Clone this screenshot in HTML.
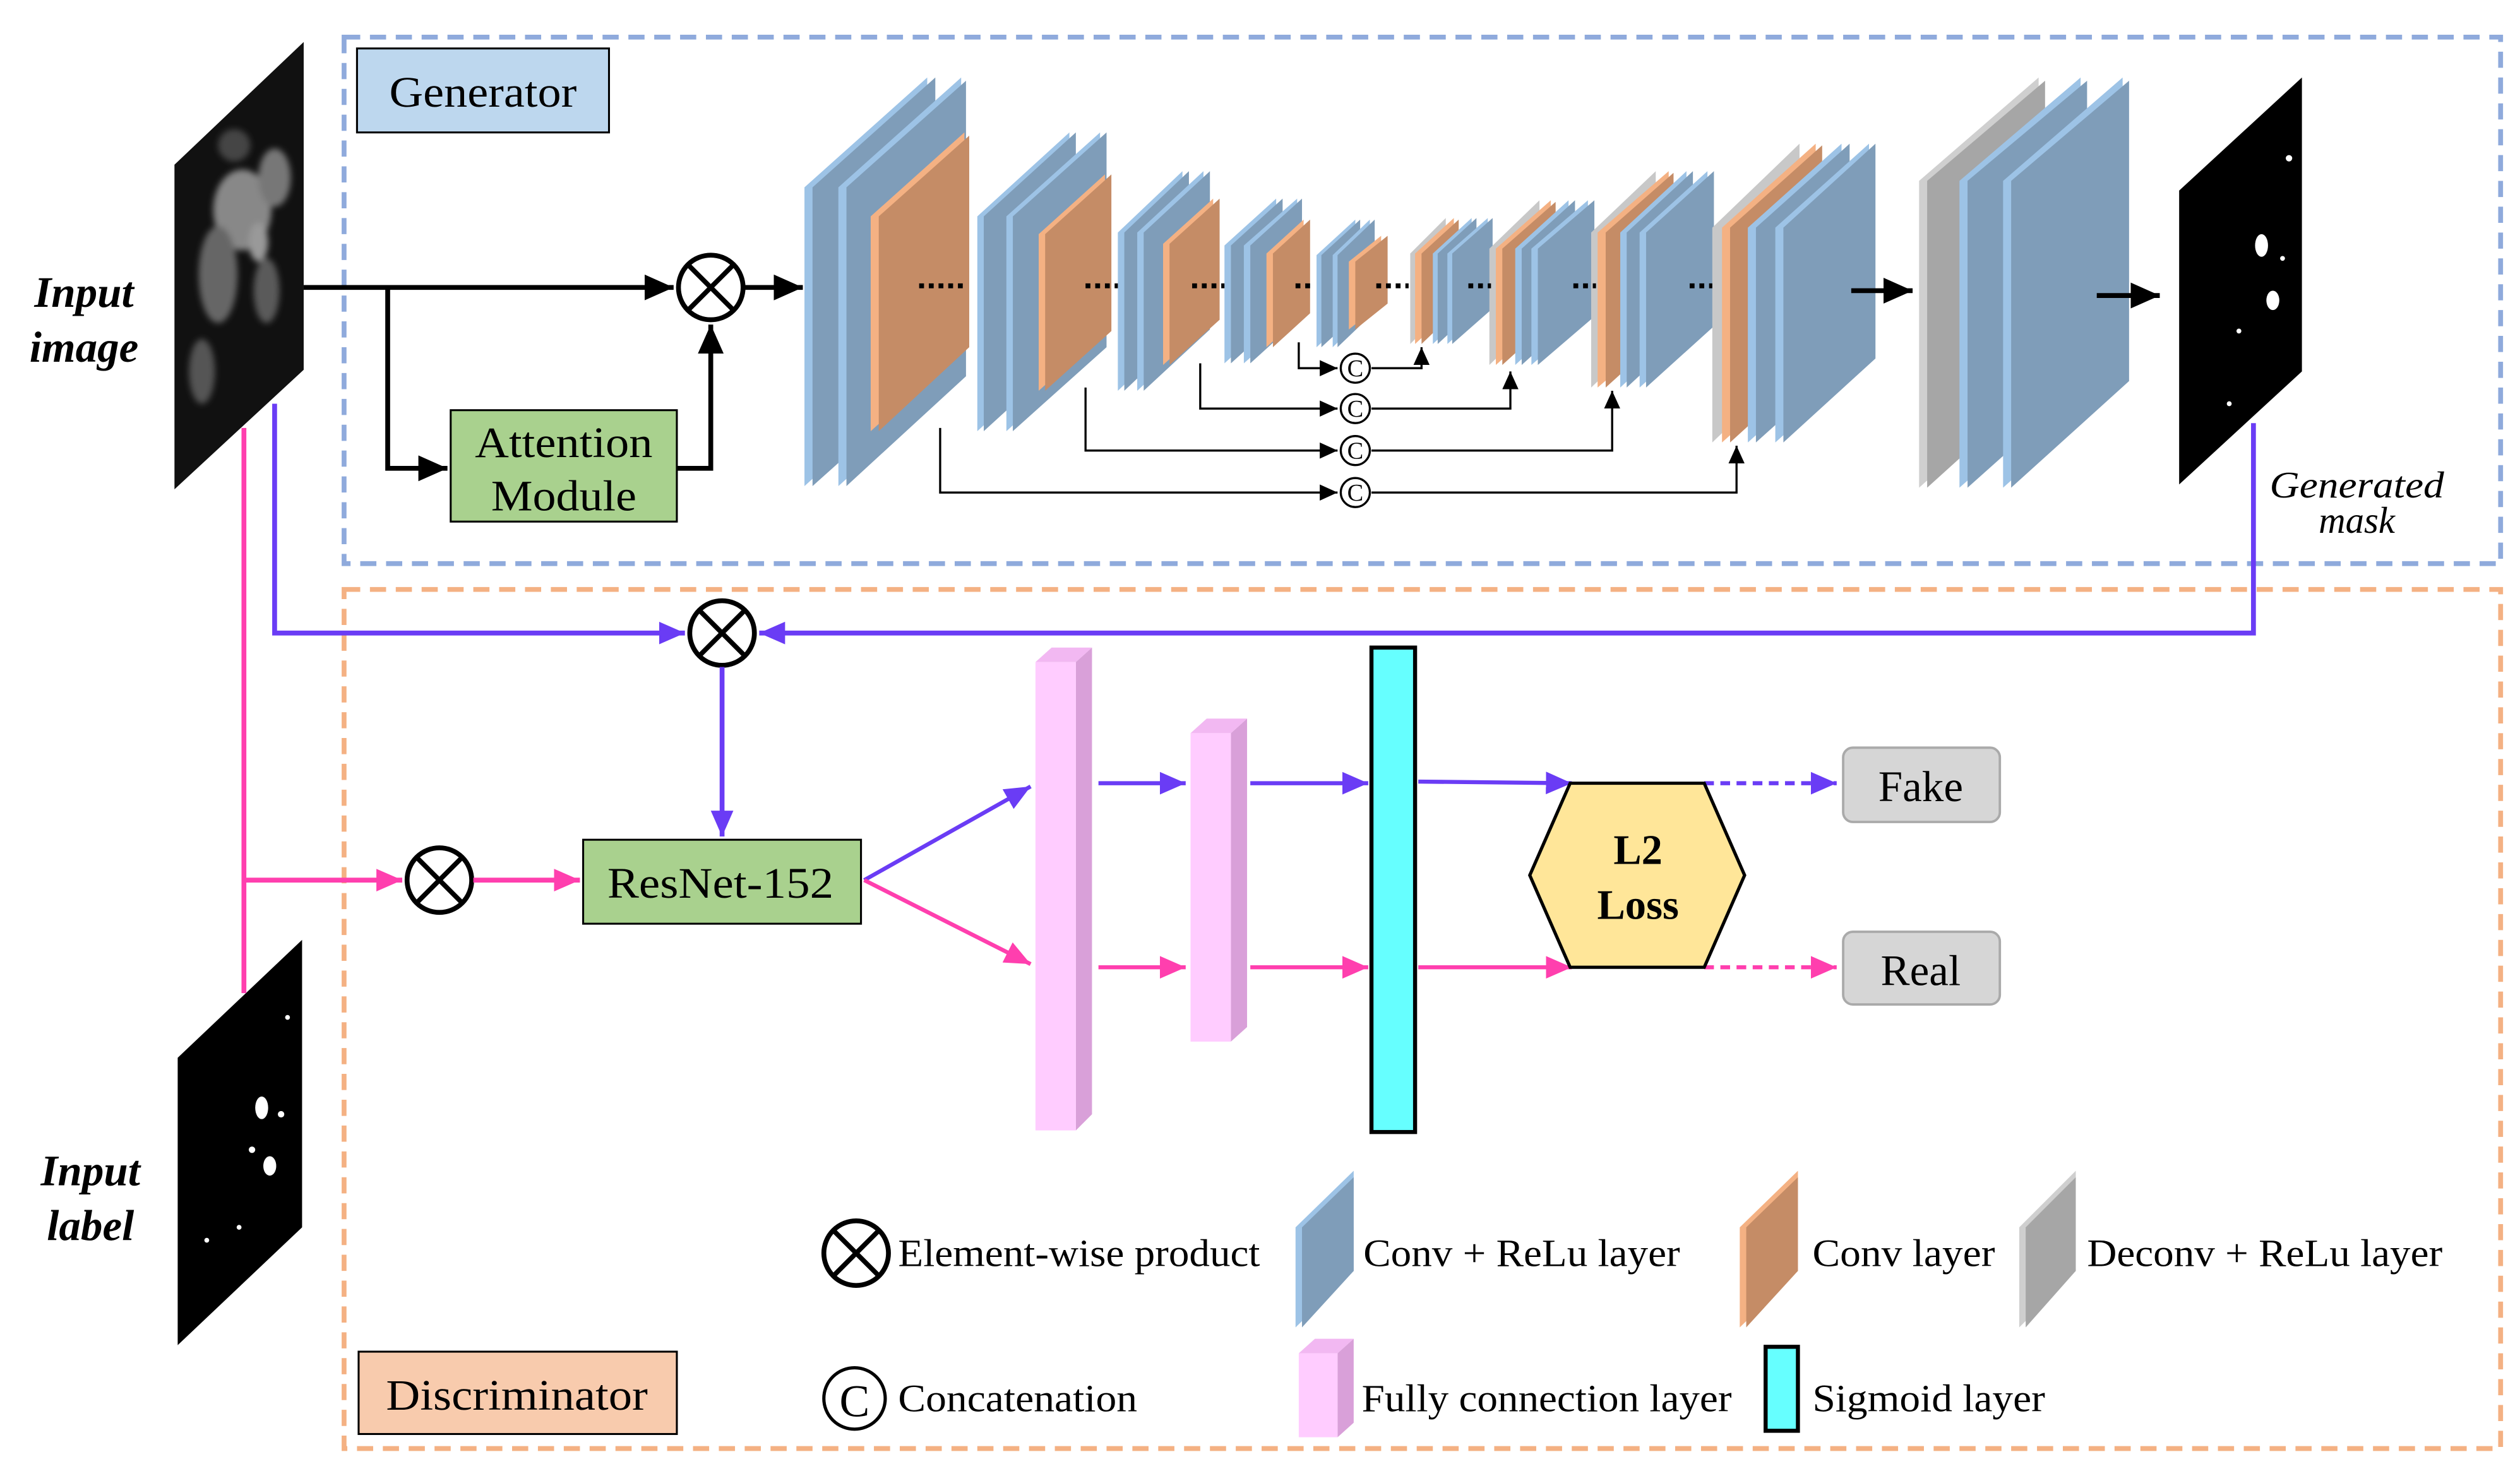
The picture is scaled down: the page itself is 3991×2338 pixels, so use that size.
<!DOCTYPE html>
<html><head><meta charset="utf-8"><style>html,body{margin:0;padding:0;background:#fff}svg{display:block}</style></head>
<body>
<svg width="3991" height="2338" viewBox="0 0 1560 914" preserveAspectRatio="none" xmlns="http://www.w3.org/2000/svg" font-family="'Liberation Serif', serif">
<defs>
<marker id="ak" markerUnits="userSpaceOnUse" markerWidth="20" markerHeight="16" refX="18" refY="8" orient="auto"><path d="M0,0 L18,8 L0,16 Z" fill="#000"/></marker>
<marker id="aks" markerUnits="userSpaceOnUse" markerWidth="12" markerHeight="10" refX="11" refY="5" orient="auto"><path d="M0,0 L11,5 L0,10 Z" fill="#000"/></marker>
<marker id="ap" markerUnits="userSpaceOnUse" markerWidth="18" markerHeight="14" refX="16" refY="7" orient="auto"><path d="M0,0 L16,7 L0,14 Z" fill="#6a3cf5"/></marker>
<marker id="apk" markerUnits="userSpaceOnUse" markerWidth="18" markerHeight="14" refX="16" refY="7" orient="auto"><path d="M0,0 L16,7 L0,14 Z" fill="#ff3fae"/></marker>
<clipPath id="c1"><polygon points="108,303 108,102 188,26 188,229"/></clipPath>
<filter id="bl"><feGaussianBlur stdDeviation="2"/></filter>
</defs>

<rect x="213" y="23" width="1335" height="326" fill="none" stroke="#8faadc" stroke-width="3" stroke-dasharray="10,6"/>
<rect x="213" y="365" width="1335" height="532" fill="none" stroke="#f4b183" stroke-width="3" stroke-dasharray="10,6"/>

<rect x="221" y="30" width="156" height="52" fill="#bdd7ee" stroke="#000" stroke-width="1.2"/>
<text x="241" y="66" font-size="27" textLength="116" lengthAdjust="spacingAndGlyphs">Generator</text>
<rect x="222" y="837" width="197" height="51" fill="#f8cbad" stroke="#000" stroke-width="1.2"/>
<text x="239" y="873" font-size="27" textLength="162" lengthAdjust="spacingAndGlyphs">Discriminator</text>

<polygon points="108,303 108,102 188,26 188,229" fill="#111"/>
<g clip-path="url(#c1)" filter="url(#bl)">
<ellipse cx="150" cy="130" rx="18" ry="25" fill="#888"/>
<ellipse cx="135" cy="170" rx="12" ry="30" fill="#666"/>
<ellipse cx="170" cy="110" rx="10" ry="18" fill="#777"/>
<ellipse cx="125" cy="230" rx="8" ry="20" fill="#555"/>
<ellipse cx="165" cy="180" rx="8" ry="20" fill="#5a5a5a"/>
<ellipse cx="145" cy="90" rx="10" ry="10" fill="#444"/>
<ellipse cx="160" cy="150" rx="6" ry="12" fill="#999"/>
</g>
<text x="52" y="190" font-size="27" font-weight="bold" font-style="italic" text-anchor="middle">Input</text>
<text x="52" y="224" font-size="27" font-weight="bold" font-style="italic" text-anchor="middle">image</text>

<polygon points="110,833 110,655 187,582 187,760" fill="#000"/>
<g fill="#fff"><ellipse cx="162" cy="686" rx="4" ry="7"/><ellipse cx="167" cy="722" rx="4" ry="6"/><circle cx="174" cy="690" r="2"/><circle cx="156" cy="712" r="2"/><circle cx="148" cy="760" r="1.5"/><circle cx="128" cy="768" r="1.5"/><circle cx="178" cy="630" r="1.5"/></g>
<text x="56" y="734" font-size="27" font-weight="bold" font-style="italic" text-anchor="middle">Input</text>
<text x="56" y="768" font-size="27" font-weight="bold" font-style="italic" text-anchor="middle">label</text>

<polygon points="1349,300 1349,118 1425,48 1425,230" fill="#000"/>
<g fill="#fff"><ellipse cx="1400" cy="152" rx="4" ry="7"/><ellipse cx="1407" cy="186" rx="4" ry="6"/><circle cx="1417" cy="98" r="2"/><circle cx="1386" cy="205" r="1.5"/><circle cx="1380" cy="250" r="1.5"/><circle cx="1413" cy="160" r="1.5"/></g>
<text x="1459" y="308" font-size="23" font-style="italic" text-anchor="middle" textLength="108" lengthAdjust="spacingAndGlyphs">Generated</text>
<text x="1459" y="330" font-size="23" font-style="italic" text-anchor="middle">mask</text>

<line x1="188" y1="178" x2="417" y2="178" stroke="#000" stroke-width="3" marker-end="url(#ak)"/>
<polyline points="240,178 240,290 277,290" fill="none" stroke="#000" stroke-width="3" marker-end="url(#ak)"/>
<rect x="279" y="254" width="140" height="69" fill="#a9d18e" stroke="#000" stroke-width="1.2"/>
<text x="294" y="283" font-size="27" textLength="110" lengthAdjust="spacingAndGlyphs">Attention</text>
<text x="304" y="316" font-size="27" textLength="90" lengthAdjust="spacingAndGlyphs">Module</text>
<polyline points="419,290 440,290 440,201" fill="none" stroke="#000" stroke-width="3" marker-end="url(#ak)"/>
<g stroke="#000" stroke-width="3" fill="#fff"><circle cx="440" cy="178" r="20"/><line x1="426" y1="164" x2="454" y2="192"/><line x1="454" y1="164" x2="426" y2="192"/></g>
<line x1="461" y1="178" x2="497" y2="178" stroke="#000" stroke-width="3" marker-end="url(#ak)"/>

<g>
<polygon points="498,301 498,116 574,48 574,233" fill="#9dc3e6"/><polygon points="503,301 503,116 579,48 579,233" fill="#7f9db9"/>
<polygon points="519,301 519,116 595,48 595,233" fill="#9dc3e6"/><polygon points="524,301 524,116 598,50 598,233" fill="#7f9db9"/>
<polygon points="539,267 539,134 597,82 597,215" fill="#f4b183"/><polygon points="544,267 544,134 600,84 600,215" fill="#c58c66"/>
<polygon points="605,267 605,134 662,82 662,215" fill="#9dc3e6"/><polygon points="609,267 609,134 666,82 666,215" fill="#7f9db9"/>
<polygon points="623,267 623,134 681,82 681,215" fill="#9dc3e6"/><polygon points="627,267 627,134 685,82 685,215" fill="#7f9db9"/>
<polygon points="643,242 643,145 684,108 684,205" fill="#f4b183"/><polygon points="647,242 647,145 688,108 688,205" fill="#c58c66"/>
<polygon points="692,242 692,144 732,106 732,204" fill="#9dc3e6"/><polygon points="696,242 696,144 736,106 736,204" fill="#7f9db9"/>
<polygon points="704,242 704,144 745,106 745,204" fill="#9dc3e6"/><polygon points="708,242 708,144 749,106 749,204" fill="#7f9db9"/>
<polygon points="720,226 720,151 751,123 751,198" fill="#f4b183"/><polygon points="724,226 724,151 755,123 755,198" fill="#c58c66"/>
<polygon points="758,225 758,152 790,123 790,196" fill="#9dc3e6"/><polygon points="762,225 762,152 794,123 794,196" fill="#7f9db9"/>
<polygon points="770,225 770,152 803,123 803,196" fill="#9dc3e6"/><polygon points="774,225 774,152 806,123 806,196" fill="#7f9db9"/>
<polygon points="784,215 784,157 807,136 807,194" fill="#f4b183"/><polygon points="788,215 788,157 811,136 811,194" fill="#c58c66"/>
<polygon points="815,215 815,158 839,136 839,193" fill="#9dc3e6"/><polygon points="818,215 818,158 842,136 842,193" fill="#7f9db9"/>
<polygon points="825,215 825,158 848,136 848,193" fill="#9dc3e6"/><polygon points="828,215 828,158 851,136 851,193" fill="#7f9db9"/>
<polygon points="835,204 835,162 855,146 855,188" fill="#f4b183"/><polygon points="839,204 839,162 859,146 859,188" fill="#c58c66"/>
<polygon points="873,213 873,157 895,135 895,191" fill="#c8c8c8"/>
<polygon points="876,213 876,157 900,135 900,191" fill="#f4b183"/><polygon points="880,213 880,157 903,136 903,191" fill="#c58c66"/>
<polygon points="887,213 887,157 911,135 911,191" fill="#9dc3e6"/><polygon points="890,213 890,157 914,135 914,191" fill="#7f9db9"/>
<polygon points="896,213 896,157 921,135 921,191" fill="#9dc3e6"/><polygon points="899,213 899,157 924,135 924,191" fill="#7f9db9"/>
<polygon points="922,226 922,154 953,124 953,196" fill="#c8c8c8"/>
<polygon points="926,226 926,154 960,124 960,196" fill="#f4b183"/><polygon points="930,226 930,154 963,125 963,196" fill="#c58c66"/>
<polygon points="938,226 938,154 971,124 971,196" fill="#9dc3e6"/><polygon points="942,226 942,154 975,124 975,196" fill="#7f9db9"/>
<polygon points="948,226 948,154 983,124 983,196" fill="#9dc3e6"/><polygon points="952,226 952,154 987,124 987,196" fill="#7f9db9"/>
<polygon points="985,240 985,144 1025,106 1025,202" fill="#c8c8c8"/>
<polygon points="989,240 989,144 1033,106 1033,202" fill="#f4b183"/><polygon points="994,240 994,144 1036,107 1036,202" fill="#c58c66"/>
<polygon points="1003,240 1003,144 1044,106 1044,202" fill="#9dc3e6"/><polygon points="1007,240 1007,144 1048,106 1048,202" fill="#7f9db9"/>
<polygon points="1015,240 1015,144 1057,106 1057,202" fill="#9dc3e6"/><polygon points="1019,240 1019,144 1061,106 1061,202" fill="#7f9db9"/>
<polygon points="1060,274 1060,141 1114,89 1114,222" fill="#c8c8c8"/>
<polygon points="1066,274 1066,141 1124,89 1124,222" fill="#f4b183"/><polygon points="1071,274 1071,141 1128,90 1128,222" fill="#c58c66"/>
<polygon points="1082,274 1082,141 1140,89 1140,222" fill="#9dc3e6"/><polygon points="1087,274 1087,141 1145,89 1145,222" fill="#7f9db9"/>
<polygon points="1099,274 1099,141 1157,89 1157,222" fill="#9dc3e6"/><polygon points="1104,274 1104,141 1161,89 1161,222" fill="#7f9db9"/>
<polygon points="1188,302 1188,112 1262,48 1262,236" fill="#cfcfcf"/><polygon points="1193,302 1193,112 1266,50 1266,236" fill="#a6a6a6"/>
<polygon points="1213,302 1213,112 1288,48 1288,236" fill="#9dc3e6"/><polygon points="1218,302 1218,112 1292,50 1292,236" fill="#7f9db9"/>
<polygon points="1240,302 1240,112 1314,48 1314,236" fill="#9dc3e6"/><polygon points="1245,302 1245,112 1318,50 1318,236" fill="#7f9db9"/>
</g>

<g stroke="#000" stroke-width="3" stroke-dasharray="3,3">
<line x1="569" y1="177" x2="599" y2="177"/><line x1="672" y1="177" x2="692" y2="177"/><line x1="738" y1="177" x2="758" y2="177"/>
<line x1="802" y1="177" x2="814" y2="177"/><line x1="852" y1="177" x2="872" y2="177"/><line x1="909" y1="177" x2="923" y2="177"/>
<line x1="974" y1="177" x2="988" y2="177"/><line x1="1046" y1="177" x2="1060" y2="177"/>
</g>
<line x1="1146" y1="180" x2="1184" y2="180" stroke="#000" stroke-width="3" marker-end="url(#ak)"/>
<line x1="1298" y1="183" x2="1337" y2="183" stroke="#000" stroke-width="3" marker-end="url(#ak)"/>

<g fill="none" stroke="#000" stroke-width="1.3">
<polyline points="804,212 804,228 828,228" marker-end="url(#aks)"/>
<polyline points="849,228 880,228 880,215" marker-end="url(#aks)"/>
<polyline points="743,225 743,253 828,253" marker-end="url(#aks)"/>
<polyline points="849,253 935,253 935,230" marker-end="url(#aks)"/>
<polyline points="672,240 672,279 828,279" marker-end="url(#aks)"/>
<polyline points="849,279 998,279 998,242" marker-end="url(#aks)"/>
<polyline points="582,265 582,305 828,305" marker-end="url(#aks)"/>
<polyline points="849,305 1075,305 1075,276" marker-end="url(#aks)"/>
</g>
<g font-size="15" text-anchor="middle" fill="#000">
<circle cx="839" cy="228" r="9" fill="#fff" stroke="#000" stroke-width="1.3"/><text x="839" y="233">C</text>
<circle cx="839" cy="253" r="9" fill="#fff" stroke="#000" stroke-width="1.3"/><text x="839" y="258">C</text>
<circle cx="839" cy="279" r="9" fill="#fff" stroke="#000" stroke-width="1.3"/><text x="839" y="284">C</text>
<circle cx="839" cy="305" r="9" fill="#fff" stroke="#000" stroke-width="1.3"/><text x="839" y="310">C</text>
</g>

<polyline points="170,250 170,392 424,392" fill="none" stroke="#6a3cf5" stroke-width="3" marker-end="url(#ap)"/>
<polyline points="1395,262 1395,392 470,392" fill="none" stroke="#6a3cf5" stroke-width="3" marker-end="url(#ap)"/>
<g stroke="#000" stroke-width="3" fill="#fff"><circle cx="447" cy="392" r="20"/><line x1="433" y1="378" x2="461" y2="406"/><line x1="461" y1="378" x2="433" y2="406"/></g>
<line x1="447" y1="413" x2="447" y2="518" stroke="#6a3cf5" stroke-width="3" marker-end="url(#ap)"/>

<polyline points="151,265 151,615" fill="none" stroke="#ff3fae" stroke-width="3"/>
<line x1="151" y1="545" x2="249" y2="545" stroke="#ff3fae" stroke-width="3" marker-end="url(#apk)"/>
<g stroke="#000" stroke-width="3" fill="#fff"><circle cx="272" cy="545" r="20"/><line x1="258" y1="531" x2="286" y2="559"/><line x1="286" y1="531" x2="258" y2="559"/></g>
<line x1="293" y1="545" x2="359" y2="545" stroke="#ff3fae" stroke-width="3" marker-end="url(#apk)"/>

<rect x="361" y="520" width="172" height="52" fill="#a9d18e" stroke="#000" stroke-width="1.2"/>
<text x="376" y="556" font-size="27" textLength="140" lengthAdjust="spacingAndGlyphs">ResNet-152</text>
<line x1="535" y1="545" x2="638" y2="487" stroke="#6a3cf5" stroke-width="2.5" marker-end="url(#ap)"/>
<line x1="535" y1="545" x2="638" y2="597" stroke="#ff3fae" stroke-width="2.5" marker-end="url(#apk)"/>

<polygon points="666,410 676,401 676,690 666,700" fill="#d9a0d9"/>
<polygon points="641,410 651,401 676,401 666,410" fill="#f2b8f2"/>
<rect x="641" y="410" width="25" height="290" fill="#ffccff"/>
<polygon points="762,454 772,445 772,636 762,645" fill="#d9a0d9"/>
<polygon points="737,454 747,445 772,445 762,454" fill="#f2b8f2"/>
<rect x="737" y="454" width="25" height="191" fill="#ffccff"/>
<rect x="849" y="401" width="27" height="300" fill="#66ffff" stroke="#000" stroke-width="2.5"/>

<g stroke-width="2.5">
<line x1="680" y1="485" x2="734" y2="485" stroke="#6a3cf5" marker-end="url(#ap)"/>
<line x1="774" y1="485" x2="847" y2="485" stroke="#6a3cf5" marker-end="url(#ap)"/>
<line x1="878" y1="484" x2="973" y2="485" stroke="#6a3cf5" marker-end="url(#ap)"/>
<line x1="680" y1="599" x2="734" y2="599" stroke="#ff3fae" marker-end="url(#apk)"/>
<line x1="774" y1="599" x2="847" y2="599" stroke="#ff3fae" marker-end="url(#apk)"/>
<line x1="878" y1="599" x2="973" y2="599" stroke="#ff3fae" marker-end="url(#apk)"/>
<line x1="1055" y1="485" x2="1137" y2="485" stroke="#6a3cf5" stroke-dasharray="6,4" marker-end="url(#ap)"/>
<line x1="1055" y1="599" x2="1137" y2="599" stroke="#ff3fae" stroke-dasharray="6,4" marker-end="url(#apk)"/>
</g>
<polygon points="947,542 972,485 1055,485 1080,542 1055,599 972,599" fill="#ffe699" stroke="#000" stroke-width="2"/>
<text x="1014" y="535" font-size="26" font-weight="bold" text-anchor="middle">L2</text>
<text x="1014" y="569" font-size="26" font-weight="bold" text-anchor="middle">Loss</text>

<rect x="1141" y="463" width="97" height="46" rx="6" fill="#d6d6d6" stroke="#aaa" stroke-width="1.5"/>
<text x="1189" y="496" font-size="27" text-anchor="middle">Fake</text>
<rect x="1141" y="577" width="97" height="45" rx="6" fill="#d6d6d6" stroke="#aaa" stroke-width="1.5"/>
<text x="1189" y="610" font-size="27" text-anchor="middle">Real</text>

<g stroke="#000" stroke-width="3" fill="#fff"><circle cx="530" cy="776" r="20"/><line x1="516" y1="762" x2="544" y2="790"/><line x1="544" y1="762" x2="516" y2="790"/></g>
<text x="556" y="784" font-size="24" textLength="224" lengthAdjust="spacingAndGlyphs">Element-wise product</text>
<polygon points="802,822 802,760 838,725 838,787" fill="#9dc3e6"/><polygon points="806,822 806,760 838,729 838,787" fill="#7f9db9"/>
<text x="844" y="784" font-size="24" textLength="196" lengthAdjust="spacingAndGlyphs">Conv + ReLu layer</text>
<polygon points="1077,822 1077,760 1113,725 1113,787" fill="#f4b183"/><polygon points="1081,822 1081,760 1113,729 1113,787" fill="#c58c66"/>
<text x="1122" y="784" font-size="24" textLength="113" lengthAdjust="spacingAndGlyphs">Conv layer</text>
<polygon points="1250,822 1250,760 1285,725 1285,787" fill="#cfcfcf"/><polygon points="1254,822 1254,760 1285,729 1285,787" fill="#a6a6a6"/>
<text x="1292" y="784" font-size="24" textLength="220" lengthAdjust="spacingAndGlyphs">Deconv + ReLu layer</text>
<circle cx="529" cy="866" r="19" fill="#fff" stroke="#000" stroke-width="2"/>
<text x="529" y="877" font-size="28" text-anchor="middle">C</text>
<text x="556" y="874" font-size="24" textLength="148" lengthAdjust="spacingAndGlyphs">Concatenation</text>
<polygon points="828,838 838,829 838,881 828,890" fill="#d9a0d9"/>
<polygon points="804,838 814,829 838,829 828,838" fill="#f2b8f2"/>
<rect x="804" y="838" width="24" height="52" fill="#ffccff"/>
<text x="843" y="874" font-size="24" textLength="229" lengthAdjust="spacingAndGlyphs">Fully connection layer</text>
<rect x="1093" y="834" width="20" height="52" fill="#66ffff" stroke="#000" stroke-width="2.5"/>
<text x="1122" y="874" font-size="24" textLength="144" lengthAdjust="spacingAndGlyphs">Sigmoid layer</text>
</svg>
</body></html>
